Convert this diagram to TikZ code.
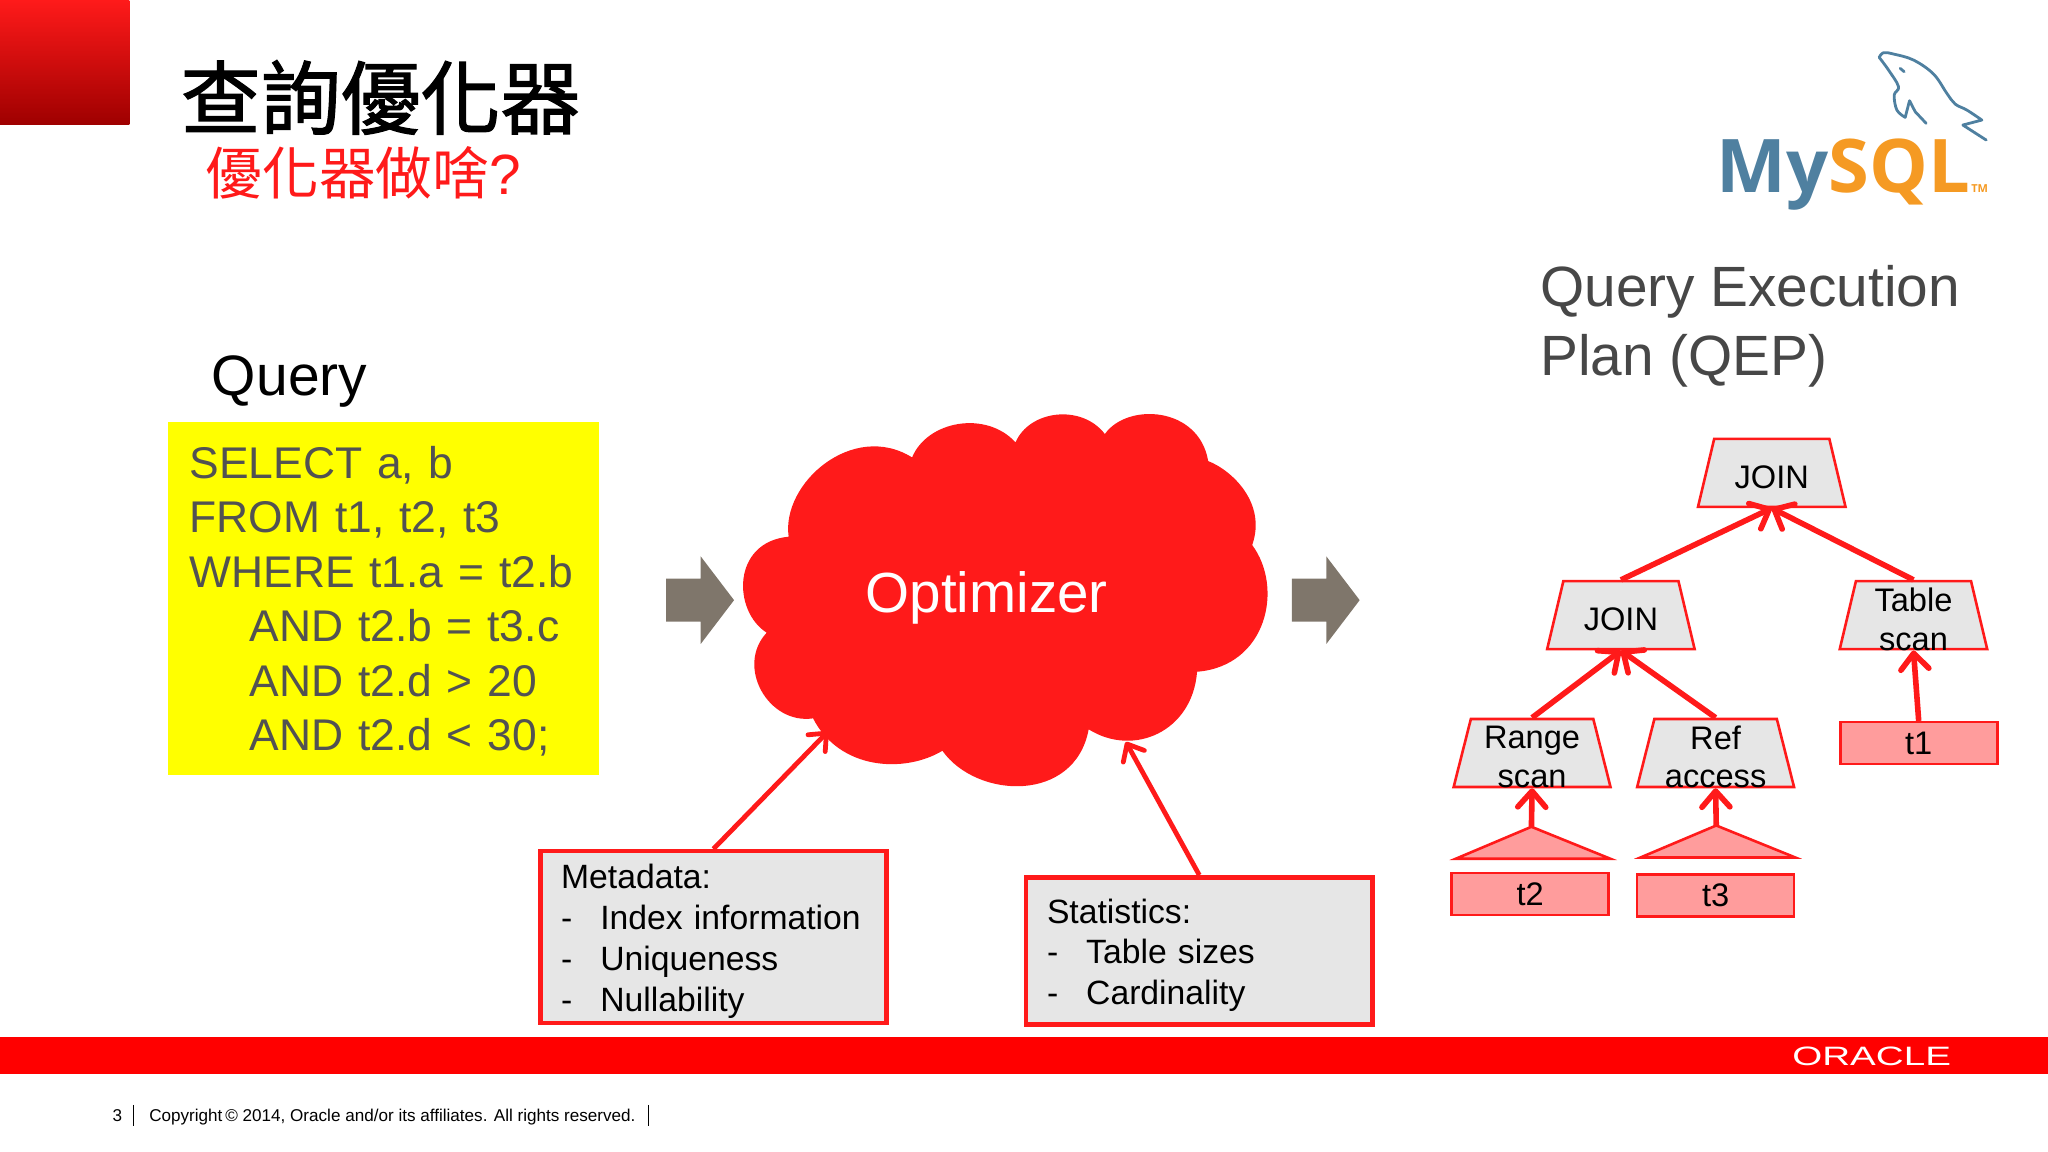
\documentclass[tikz,border=0pt]{standalone}
\usepackage{fontspec}
\setmainfont{Liberation Sans}
\newfontfamily\cjkfont{Noto Sans CJK TC}
\newfontfamily\cjkheavy{Noto Sans CJK TC}[FakeBold=1.6]
\newfontfamily\logofont{Open Sans}
\usetikzlibrary{arrows.meta,shapes.geometric}
\definecolor{oraclered}{HTML}{FF1A1A}
\definecolor{barred}{HTML}{FF0000}
\definecolor{boxgray}{HTML}{E6E6E6}
\definecolor{tablepink}{HTML}{FF9C9C}
\definecolor{arrowgray}{HTML}{7F766B}
\definecolor{notepaper}{HTML}{FFFF00}
\definecolor{mysqlblue}{HTML}{4F80A0}
\definecolor{mysqlorange}{HTML}{F59A23}
\newcommand{\listdash}{\makebox[19.6pt][l]{-}}
\newcommand{\indentcode}{\hspace*{30pt}}
\newcommand{\opbody}{\phantom{\rule{20pt}{20pt}}}
\tikzset{
  sizedfont/.style 2 args={font=\fontsize{#1}{#2}\selectfont},
  redline/.style={draw=oraclered,line width=2.4pt,-{Straight Barb[round,length=7pt,width=12pt]}},
  planline/.style={draw=oraclered,line width=2.8pt,-{Straight Barb[round,length=8pt,width=14pt]}},
  infobox/.style={draw=oraclered,line width=2.2pt,fill=boxgray,align=left,anchor=north west,
    inner xsep=10.4pt,inner ysep=0pt,text width=152.3pt,sizedfont={16.85}{20.4}},
  planop/.style={trapezium,trapezium stretches=true,trapezium angle=82,draw=oraclered,line width=1.3pt,
    fill=boxgray,inner sep=0pt,minimum width=73.8pt,minimum height=34pt},
  optext/.style={align=center,inner sep=0pt,yshift=-2pt,sizedfont={16.3}{19.2}},
  tablebox/.style={rectangle,draw=oraclered,line width=1.3pt,fill=tablepink,inner sep=0pt,
    minimum width=78.5pt,minimum height=21pt,sizedfont={16.3}{19.2}},
  tablecone/.style={draw=oraclered,line width=1.3pt,fill=tablepink,line join=miter},
  flowarrow/.style={fill=arrowgray},
  dolphin/.style={draw=mysqlblue,line width=1.4pt,line cap=round,line join=round}
}
\begin{document}
\begin{tikzpicture}[x=0.6531pt,y=-0.6531pt]
\useasboundingbox (0,0) rectangle (1568,882);

\shade[top color=oraclered,bottom color=red!62!black] (0,0) rectangle (99,95.5);
\node (ti) [anchor=base west,inner sep=0pt,black,font=\cjkheavy\fontsize{40}{40}\selectfont]
    at (138,98) {查詢優化器};
\node (su) [anchor=base west,inner sep=0pt,oraclered,sizedfont={28.4}{30}]
    at (157,149) {{\cjkfont 優化器做啥}?};

\node (my) [anchor=base west,inner sep=0pt,font=\logofont\fontsize{37}{38}\selectfont\bfseries]
    at (1314,147) {\textcolor{mysqlblue}{My}\textcolor{mysqlorange}{SQL}};
\node (tm) [anchor=base west,inner sep=0pt,mysqlorange,font=\logofont\fontsize{5.5}{6}\selectfont\bfseries]
    at (1509,147) {TM};
\begin{scope}[shift={(1286.4,23)},scale=.2552]
\draw[dolphin] plot[smooth,tension=.6] coordinates {(597,82) (610,68) (640,72) (700,90) (760,132) (800,190)
    (825,222) (860,240) (905,270)} -- (848,285) -- (918,330);
\draw[dolphin] plot[smooth,tension=.6] coordinates {(597,82) (625,120) (655,170) (642,195) (650,240) (675,262)}
    -- (688,212) -- (705,245) -- (738,280);
\draw[dolphin] (660,115) -- (672,125);
\end{scope}

\node (qu) [anchor=base west,inner sep=0pt,sizedfont={28.5}{34}] at (162,303) {Query};
\node (sq) [anchor=north west,fill=notepaper,text width=193.5pt,minimum height=176.3pt,align=left,
    inner xsep=11pt,inner ysep=0pt,text=black!68,sizedfont={22.2}{27.2}] at (128,323)
    {\rule{0pt}{18.8pt}SELECT a, b\\FROM t1, t2, t3\\WHERE t1.a = t2.b\\\indentcode AND t2.b = t3.c\\
    \indentcode AND t2.d > 20\\\indentcode AND t2.d < 30;};

\foreach \x in {510,989} {
\fill[flowarrow] (\x,443) -- ++(26.5,0) -- ++(0,-17) -- ++(25.5,33.5) -- ++(-25.5,33.5) -- ++(0,-17)
    -- ++(-26.5,0) -- cycle;
}

\begin{scope}[xshift=-1.3pt]
\fill[oraclered] (605.8,410.9)
    .. controls (600,370) and (655,322) .. (700.3,350.2)
    .. controls (712,322) and (757,314) .. (779.5,338.7)
    .. controls (790,314) and (830,309) .. (847.9,332.3)
    .. controls (865,308) and (920,311) .. (927,353)
    .. controls (945,360) and (972,385) .. (960.7,417.3)
    .. controls (985,450) and (972,510) .. (918.5,514.3)
    .. controls (915,560) and (870,580) .. (835.5,558.4)
    .. controls (825,615) and (750,612) .. (723.5,574.8)
    .. controls (695,592) and (645,590) .. (624.5,550)
    .. controls (590,555) and (565,510) .. (589,484.4)
    .. controls (563,468) and (562,415) .. (605.8,410.9) -- cycle;
\end{scope}
\node (op) [white,inner sep=0pt,sizedfont={28.3}{34}] at (755.5,457.5) {Optimizer};
\coordinate (cla) at (634,560);
\coordinate (clb) at (862,568);

\node (md) [infobox,minimum height=85.9pt] at (412,650)
    {\rule{0pt}{16.5pt}Metadata:\\\listdash Index information\\\listdash Uniqueness\\\listdash Nullability};
\node (st) [infobox,minimum height=73.5pt] at (784,670)
    {\rule{0pt}{16.5pt}Statistics:\\\listdash Table sizes\\\listdash Cardinality};
\draw[redline] (md.north) -- (cla);
\draw[redline] (st.north) -- (clb);

\node (qe) [anchor=north west,inner sep=0pt,align=left,text=black!72,sizedfont={28.4}{34.4}] at (1179,203)
    {Query Execution\\Plan (QEP)};

\node (ja) [planop,label={[optext]center:JOIN}] at (1356.5,362) {\opbody};
\node (jb) [planop,label={[optext]center:JOIN}] at (1241,471) {\opbody};
\node (ts) [planop,label={[optext]center:Table\\scan}] at (1465,471) {\opbody};
\node (rs) [planop,minimum width=78.5pt,label={[optext]center:Range\\scan}] at (1173,576.5) {\opbody};
\node (ra) [planop,minimum width=78.5pt,label={[optext]center:Ref\\access}] at (1313.5,576.5) {\opbody};

\node (ta) [tablebox] at (1469,569) {t1};
\node (tb) [tablebox] at (1171.5,684.5) {t2};
\node (tc) [tablebox] at (1313.5,685.5) {t3};
\draw[tablecone] (1172.5,633) coordinate (ca) -- (1233,657.5) -- (1114.5,657.5) -- cycle;
\draw[tablecone] (1314,632) coordinate (cb) -- (1374.5,656.5) -- (1256,656.5) -- cycle;

\draw[planline] (jb.north) -- (ja.south);
\draw[planline] (ts.north) -- (ja.south);
\draw[planline] (rs.north) -- (jb.south);
\draw[planline] (ra.north) -- (jb.south);
\draw[planline] (ta.north) -- (ts.south);
\draw[planline] (ca) -- (rs.south);
\draw[planline] (cb) -- (ra.south);

\fill[barred] (0,794) rectangle (1568,822.5);
\node (oc) [anchor=center,inner sep=0pt,white,xscale=1.45,sizedfont={13.3}{14}] at (1433,808.5) {ORACLE};

\node (pg) [anchor=base west,inner sep=0pt,sizedfont={8.55}{9}] at (86,858.5) {3};
\draw[line width=.6pt] (102.5,846) -- (102.5,862);
\node (cr) [anchor=base west,inner sep=0pt,sizedfont={8.55}{9}] at (114,858.5)
    {Copyright\,© 2014, Oracle and/or its affiliates. All rights reserved.};
\draw[line width=.6pt] (496.5,846) -- (496.5,862);
\end{tikzpicture}
\end{document}
